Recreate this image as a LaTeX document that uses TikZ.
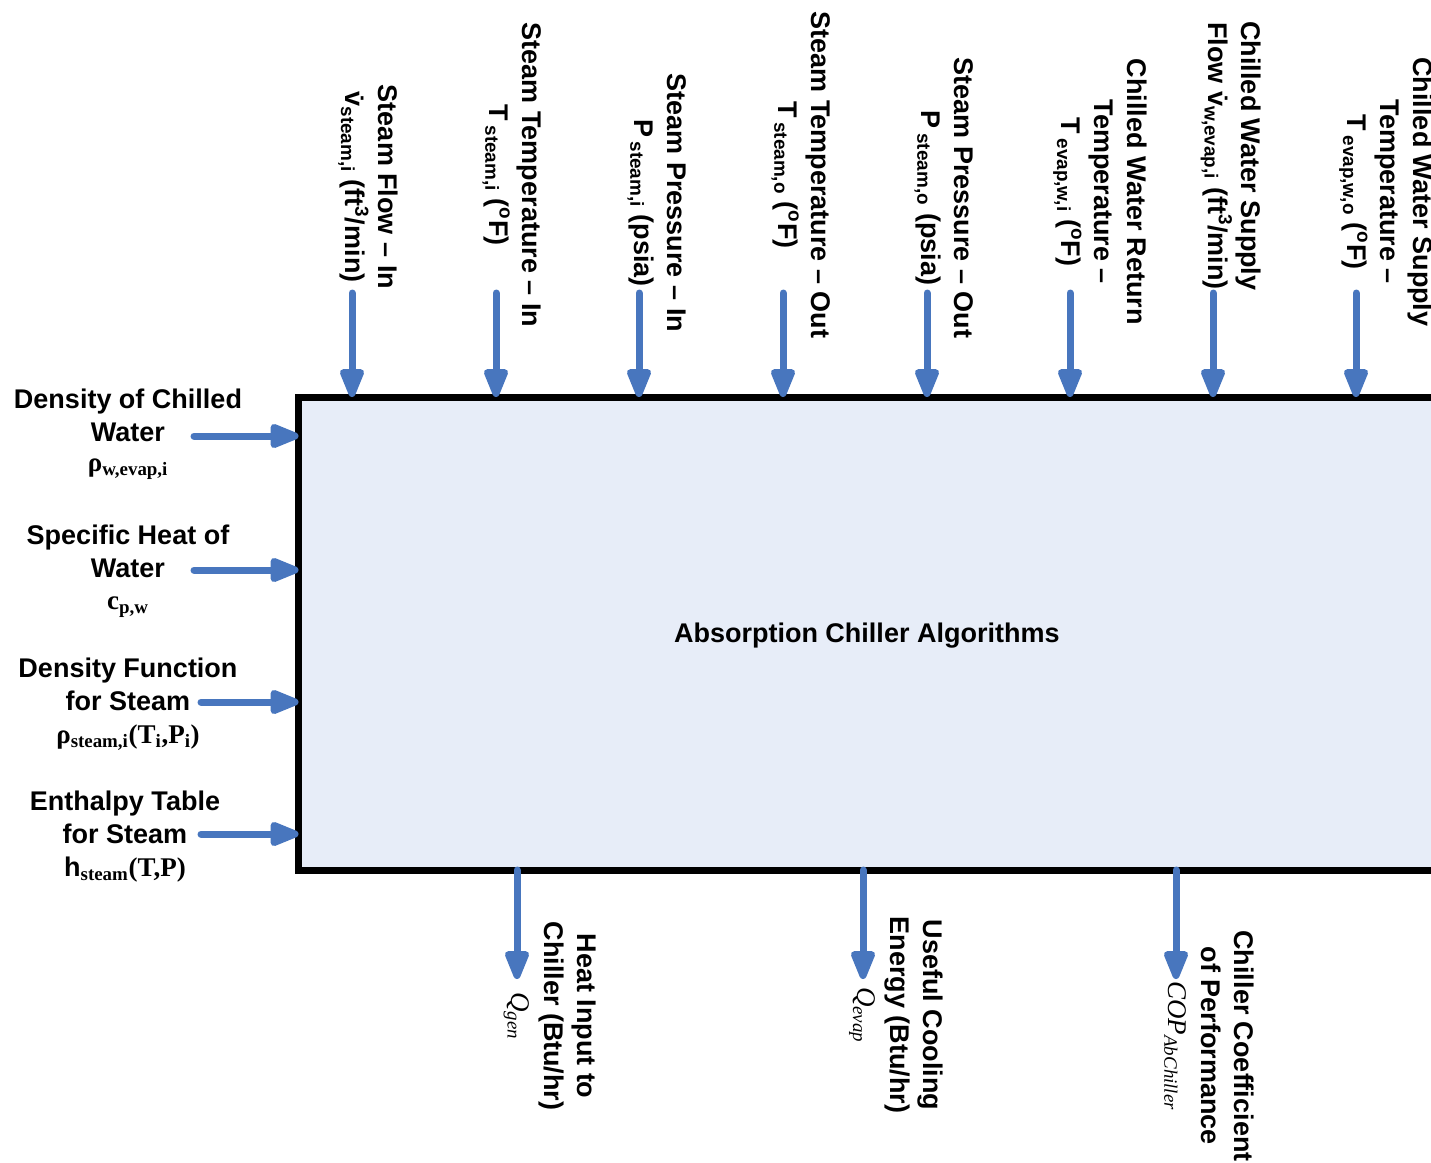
\documentclass[tikz,border=0pt]{standalone}
\usepackage{fontspec}
\setmainfont{Liberation Serif}
\setsansfont{Liberation Sans}
\usetikzlibrary{arrows.meta}
\definecolor{flowblue}{HTML}{4876BE}
\definecolor{boxfill}{HTML}{E7EDF8}
\newcommand{\lbl}{\sffamily\bfseries\fontsize{20.25}{24.75}\selectfont}
\newcommand{\symbf}[1]{{\rmfamily\bfseries #1}}
\newcommand{\symit}[1]{{\rmfamily\mdseries\itshape #1}}
\newcommand{\degF}{(\textsuperscript{o}F)}
\begin{document}
\begin{tikzpicture}[x=0.75pt,y=-0.75pt,
  flow/.style={draw=flowblue,line width=5.25pt,line cap=round,
    -{Triangle[length=26pt,width=19pt,round=false]}},
  toplabel/.style={rotate=-90,align=center,inner sep=0pt,font=\lbl},
  sidelabel/.style={align=center,inner sep=0pt,font=\lbl},
  mainbox/.style={draw=black,fill=boxfill,line width=5.25pt,inner sep=0pt,
    outer sep=0pt,font=\lbl}]
\useasboundingbox (0,0) rectangle (1431,1163);

% central block; its right side runs just past the page edge
\node[mainbox,minimum width=852.4pt,minimum height=354.75pt,anchor=north west,
  text depth=1.5pt]
  (box) at (298.5,397) {Absorption Chiller Algorithms};

% ---- inputs from the top ----
\node[toplabel] (l1) at (368,187) {Steam Flow -- In\\\.{v}\textsubscript{steam,i} (ft\textsuperscript{3}/min)};
\node[toplabel] (l2) at (512,175) {Steam Temperature -- In\\T\,\textsubscript{steam,i} \degF};
\node[toplabel] (l3) at (657,203) {Steam Pressure -- In\\P\,\textsubscript{steam,i} (psia)};
\node[toplabel] (l4) at (801,175) {Steam Temperature -- Out\\T\,\textsubscript{steam,o} \degF};
\node[toplabel] (l5) at (944,198) {Steam Pressure -- Out\\P\,\textsubscript{steam,o} (psia)};
\node[toplabel] (l6) at (1100,192) {Chilled Water Return\\Temperature --\\T\,\textsubscript{evap,w,i} \degF};
\node[toplabel] (l7) at (1231,156) {Chilled Water Supply\\Flow \.{v}\textsubscript{w,evap,i} (ft\textsuperscript{3}/min)};
\node[toplabel] (l8) at (1386,192) {Chilled Water Supply\\Temperature --\\T\,\textsubscript{evap,w,o} \degF};

\foreach \i/\x in {1/352,2/496,3/639,4/783,5/927,6/1070,7/1213,8/1356}{
  \coordinate (t\i) at (\x,293);
  \draw[flow] (t\i) -- (t\i |- box.north);
}

% ---- inputs from the left ----
\node[sidelabel] (s1) at (128,434.5) {Density of Chilled\\Water\\[-2.25pt]\symbf{ρ\textsubscript{w,evap,i}}};
\node[sidelabel] (s2) at (128,571.5) {Specific Heat of\\Water\\[-0.75pt]\symbf{c\textsubscript{p,w}}};
\node[sidelabel] (s3) at (128,704) {Density Function\\for Steam\\\symbf{ρ\textsubscript{steam,i}(T\textsubscript{i},P\textsubscript{i})}};
\node[sidelabel] (s4) at (125,836.5) {Enthalpy Table\\for Steam\\h\symbf{\textsubscript{steam}(T,P)}};

\coordinate (i1) at (194,436);
\coordinate (i2) at (194,570);
\coordinate (i3) at (201,702);
\coordinate (i4) at (201,834);
\foreach \i in {1,...,4}{
  \draw[flow] (i\i) -- (i\i -| box.west);
}

% ---- outputs at the bottom ----
\coordinate (o1) at (517,979);
\coordinate (o2) at (863,979);
\coordinate (o3) at (1176,979);
\foreach \i in {1,2,3}{
  \draw[flow] (o\i |- box.south) -- (o\i);
}
\node[toplabel] (b1) at (550,1016) {Heat Input to\\Chiller (Btu/hr)\\\symit{Q\textsubscript{gen}}};
\node[toplabel] (b2) at (896,1015) {Useful Cooling\\Energy (Btu/hr)\\\symit{Q\textsubscript{evap}}};
\node[toplabel] (b3) at (1209,1046) {Chiller Coefficient\\of Performance\\\symit{COP\textsubscript{AbChiller}}};
\end{tikzpicture}
\end{document}
